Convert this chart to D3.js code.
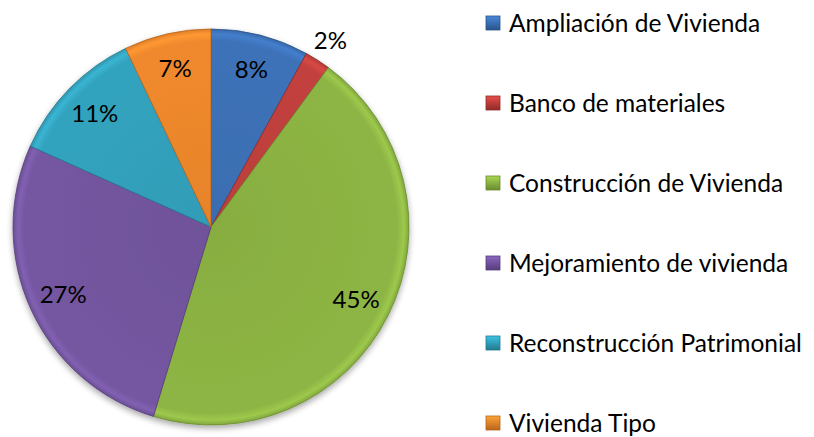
<!DOCTYPE html>
<html><head><meta charset="utf-8">
<script src="https://cdn.jsdelivr.net/npm/d3@7/dist/d3.min.js"></script>
<style>body{margin:0;background:#fff}svg{display:block}</style>
</head><body>
<svg id="c" width="814" height="437"></svg>
<script>
const categories = ["Ampliación de Vivienda","Banco de materiales","Construcción de Vivienda","Mejoramiento de vivienda","Reconstrucción Patrimonial","Vivienda Tipo"];
const values = [8.0, 2.1, 44.6, 27.0, 11.2, 7.1];
const labels = ["8%","2%","45%","27%","11%","7%"];
const colors = ["#3d72b8","#c2413e","#8db544","#7456a0","#33a3be","#f0892d"];
const darkColors = ["#2a5489","#8e2b29","#6a8a30","#553d7c","#217a8f","#b8651c"];

const svg = d3.select("#c");
const cx = 211, cy = 227, R = 198;
const font = "Lato, 'Open Sans', sans-serif";
const defs = svg.append("defs");

// shadow
const f = defs.append("filter").attr("id","sh").attr("x","-20%").attr("y","-20%").attr("width","140%").attr("height","140%");
f.append("feGaussianBlur").attr("in","SourceAlpha").attr("stdDeviation",3);
f.append("feOffset").attr("dx",0).attr("dy",3).attr("result","b");
f.append("feComponentTransfer").append("feFuncA").attr("type","linear").attr("slope",0.35);
const fm = f.append("feMerge"); fm.append("feMergeNode"); fm.append("feMergeNode").attr("in","SourceGraphic");

colors.forEach((c,i)=>{
  const g = defs.append("radialGradient").attr("id","g"+i).attr("gradientUnits","userSpaceOnUse")
    .attr("cx",0).attr("cy",0).attr("r",R);
  g.append("stop").attr("offset","0%").attr("stop-color",d3.color(c).darker(0.12));
  g.append("stop").attr("offset","85%").attr("stop-color",c);
  g.append("stop").attr("offset","94%").attr("stop-color",c);
  g.append("stop").attr("offset","97.5%").attr("stop-color",d3.color(c).brighter(0.3));
  g.append("stop").attr("offset","100%").attr("stop-color",d3.color(c).darker(0.25));
});

const pie = d3.pie().sort(null).value(d=>d)(values);
const arc = d3.arc().innerRadius(0).outerRadius(R);
const g = svg.append("g").attr("transform",`translate(${cx},${cy})`);
const gp = g.append("g").attr("filter","url(#sh)");
gp.selectAll("path.s").data(pie).join("path").attr("class","s")
  .attr("d",arc).attr("fill",(d,i)=>`url(#g${i})`)
  .attr("stroke",(d,i)=>darkColors[i]).attr("stroke-width",0.8).attr("stroke-linejoin","round");

const lr = [0.82,1.12,0.82,0.82,0.82,0.82];
g.selectAll("text.l").data(pie).join("text").attr("class","l")
  .attr("transform",(d,i)=>{const a=(d.startAngle+d.endAngle)/2; const r=R*lr[i]; return `translate(${Math.sin(a)*r},${-Math.cos(a)*r})`;})
  .attr("text-anchor","middle").attr("dy","0.35em")
  .attr("font-family",font).attr("font-size",24).attr("fill","#000")
  .text((d,i)=>labels[i]);

// legend
const ly = d3.scalePoint().domain(categories).range([23,423]);
const lg = svg.append("g");
categories.forEach((c,i)=>{
  const y = ly(c);
  const gg = defs.append("linearGradient").attr("id","lg"+i).attr("x1",0).attr("y1",0).attr("x2",0).attr("y2",1);
  gg.append("stop").attr("offset","0%").attr("stop-color",d3.color(colors[i]).brighter(0.5));
  gg.append("stop").attr("offset","100%").attr("stop-color",darkColors[i]);
  lg.append("rect").attr("x",486).attr("y",y-7).attr("width",14).attr("height",14)
    .attr("fill",`url(#lg${i})`).attr("stroke",darkColors[i]).attr("stroke-width",0.8);
  lg.append("text").attr("x",509).attr("y",y).attr("dy","0.35em")
    .attr("font-family",font).attr("font-size",24.5).attr("fill","#000").text(c);
});
</script>
</body></html>
